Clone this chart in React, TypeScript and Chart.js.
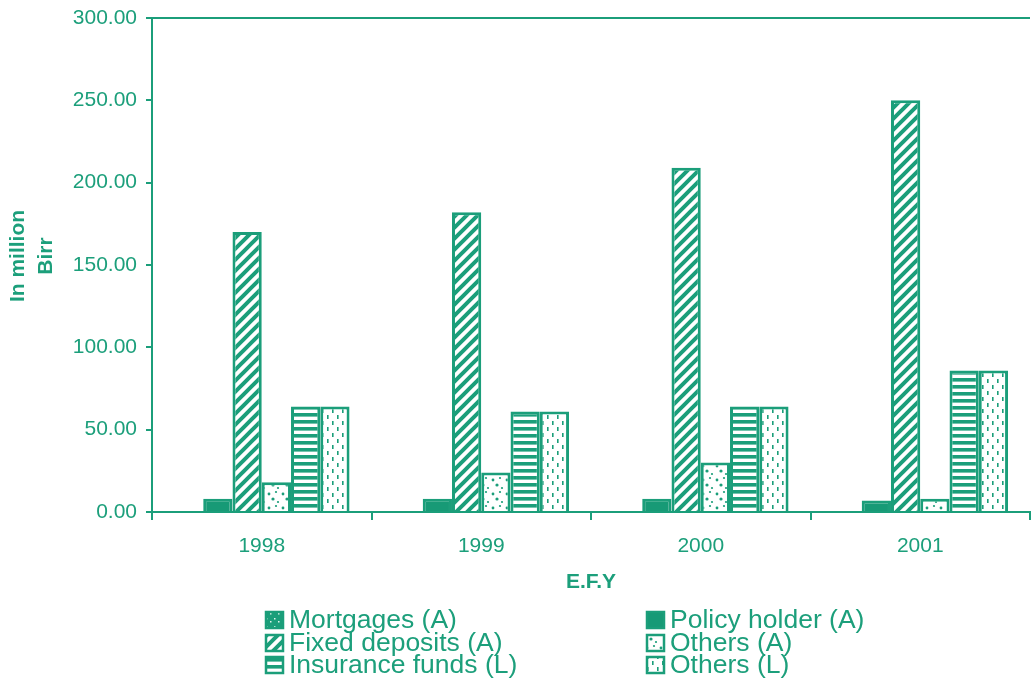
import React, { useEffect, useRef } from 'react';
import { Chart, registerables } from 'chart.js';

Chart.register(...registerables);

const GREEN = '#1b9e7a';
const TEXT = '#1c9f7b';
const FONT = '"Liberation Sans", Arial, sans-serif';

const categories = ['1998', '1999', '2000', '2001'];
const seriesNames = ['Mortgages (A)', 'Policy holder (A)', 'Fixed deposits (A)', 'Others (A)', 'Insurance funds (L)', 'Others (L)'];
const mortgages = [0, 0, 0, 0];
const policyHolder = [8, 8, 8, 7];
const fixedDeposits = [170, 182, 209, 250];
const othersA = [18, 24, 30, 8];
const insuranceFunds = [64, 61, 64, 86];
const othersL = [64, 61, 64, 86];
const yMin = 0;
const yMax = 300;
const yStep = 50;
const yTitleLines = ['In million', 'Birr'];
const xTitle = 'E.F.Y';

function makePattern(kind: string): CanvasPattern | string {
  const c = document.createElement('canvas');
  let w = 11, h = 11;
  if (kind === 'horiz') { w = 7; h = 7; }
  if (kind === 'dashes') { w = 10; h = 12; }
  if (kind === 'blobs') { w = 14; h = 14; }
  if (kind === 'specks') { w = 8; h = 8; }
  c.width = w; c.height = h;
  const g = c.getContext('2d')!;
  g.fillStyle = '#ffffff';
  g.fillRect(0, 0, w, h);
  g.fillStyle = GREEN;
  g.strokeStyle = GREEN;
  if (kind === 'diag') {
    g.lineWidth = 4;
    g.beginPath();
    g.moveTo(-2, h + 2); g.lineTo(w + 2, -2);
    g.moveTo(-2, 2); g.lineTo(2, -2);
    g.moveTo(w - 2, h + 2); g.lineTo(w + 2, h - 2);
    g.stroke();
  } else if (kind === 'horiz') {
    g.fillRect(0, 0, w, 3.6);
  } else if (kind === 'dashes') {
    g.fillRect(2, 1, 1.6, 4);
    g.fillRect(7, 7, 1.6, 4);
  } else if (kind === 'blobs') {
    g.beginPath(); g.arc(3, 4, 1.4, 0, Math.PI * 2); g.fill();
    g.beginPath(); g.arc(10, 2, 1.1, 0, Math.PI * 2); g.fill();
    g.beginPath(); g.arc(7, 9, 1.6, 0, Math.PI * 2); g.fill();
    g.beginPath(); g.arc(12, 12, 1.1, 0, Math.PI * 2); g.fill();
  } else if (kind === 'specks') {
    g.fillRect(0, 0, w, h);
    g.fillStyle = '#dff3ec';
    g.fillRect(2, 2, 1.5, 1.5);
    g.fillRect(6, 5, 1.5, 1.5);
  }
  return g.createPattern(c, 'repeat') || GREEN;
}

const legendPlugin = {
  id: 'customLegend',
  afterDraw(chart: any) {
    const ctx = chart.ctx as CanvasRenderingContext2D;
    const cols = [266, 647];
    const baselines = [628, 651, 673];
    ctx.save();
    chart.data.datasets.forEach((ds: any, i: number) => {
      const x = cols[i % 2];
      const yb = baselines[Math.floor(i / 2)];
      ctx.fillStyle = ds.backgroundColor;
      ctx.fillRect(x, yb - 16, 17, 16);
      ctx.strokeStyle = GREEN;
      ctx.lineWidth = 2.5;
      ctx.strokeRect(x, yb - 16, 17, 16);
      ctx.fillStyle = TEXT;
      ctx.font = '26.5px ' + FONT;
      ctx.textBaseline = 'alphabetic';
      ctx.textAlign = 'left';
      ctx.fillText(ds.label, x + 23, yb);
    });
    // y axis title
    ctx.translate(0, 256);
    ctx.rotate(-Math.PI / 2);
    ctx.font = 'bold 21px ' + FONT;
    ctx.textAlign = 'center';
    ctx.textBaseline = 'middle';
    ctx.fillStyle = TEXT;
    yTitleLines.forEach((t, i) => ctx.fillText(t, 0, 18 + i * 28));
    ctx.restore();
  },
};

export default function App() {
  const ref = useRef<HTMLCanvasElement>(null);
  useEffect(() => {
    if (!ref.current) return;
    const fills = [
      makePattern('specks'),
      '#179a76',
      makePattern('diag'),
      makePattern('blobs'),
      makePattern('horiz'),
      makePattern('dashes'),
    ];
    const values = [mortgages, policyHolder, fixedDeposits, othersA, insuranceFunds, othersL];
    const chart = new Chart(ref.current, {
      type: 'bar',
      data: {
        labels: categories,
        datasets: values.map((v, i) => ({
          label: seriesNames[i],
          data: v,
          backgroundColor: fills[i] as any,
          borderColor: GREEN,
          borderWidth: 3,
          borderSkipped: 'start',
          categoryPercentage: 0.8,
          barPercentage: 1.0,
        })),
      },
      options: {
        animation: false,
        responsive: true,
        maintainAspectRatio: false,
        layout: { padding: { top: 18, right: 2, bottom: 90, left: 0 } },
        plugins: { legend: { display: false }, tooltip: { enabled: false } },
        scales: {
          x: {
            afterFit: (s: any) => { s.height = 83; s.paddingLeft = 0; s.paddingRight = 0; },
            grid: { drawOnChartArea: false, drawTicks: true, tickLength: 8, color: GREEN, lineWidth: 2 },
            border: { display: true, color: GREEN, width: 2 },
            ticks: { color: TEXT, font: { family: FONT, size: 21 }, padding: 14, maxRotation: 0 },
            title: { display: true, text: xTitle, color: TEXT, font: { family: FONT, size: 21, weight: 'bold' }, padding: { top: 0, bottom: 0 } },
          },
          y: {
            min: yMin,
            max: yMax,
            afterFit: (s: any) => { s.width = 152; s.paddingTop = 0; s.paddingBottom = 0; },
            grid: {
              color: (c: any) => (c.tick && c.tick.value === yMax ? GREEN : 'rgba(0,0,0,0)'),
              tickColor: GREEN,
              tickLength: 6,
              lineWidth: 2,
            },
            border: { display: true, color: GREEN, width: 2 },
            ticks: {
              stepSize: yStep,
              color: TEXT,
              font: { family: FONT, size: 21 },
              padding: 9,
              callback: (v: any) => Number(v).toFixed(2),
            },
            title: { display: false },
          },
        },
      },
      plugins: [legendPlugin],
    });
    return () => chart.destroy();
  }, []);
  return (
    <div style={{ position: 'absolute', left: 0, top: 0, width: 1032, height: 685, background: '#fff' }}>
      <canvas ref={ref} />
    </div>
  );
}
